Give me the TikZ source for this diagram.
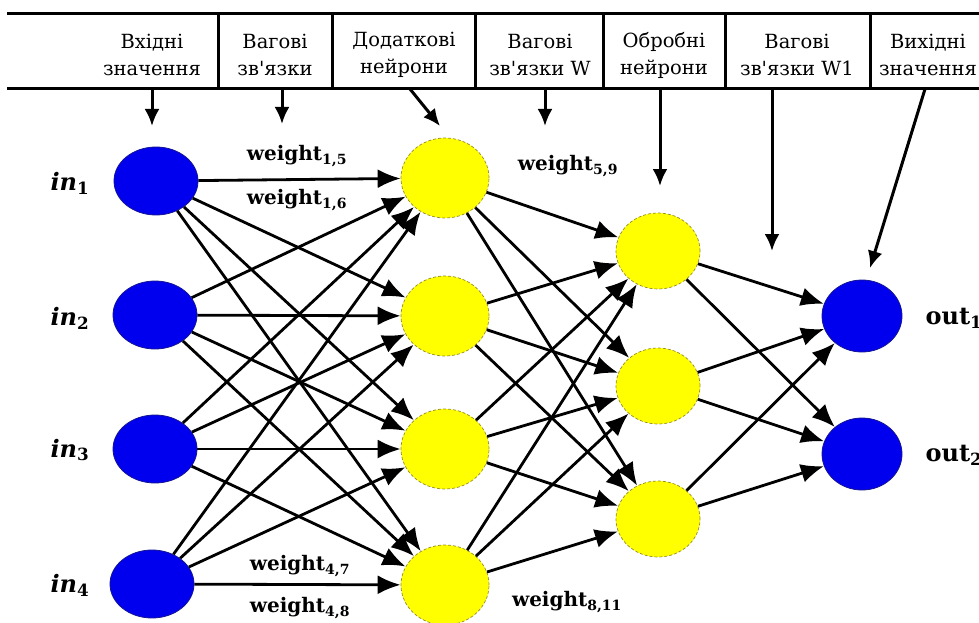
\documentclass[tikz,border=0pt]{standalone}
\usepackage{fontspec}
\setmainfont{DejaVu Serif}
\usetikzlibrary{shapes.geometric,arrows.meta}
\definecolor{nblue}{RGB}{0,0,238}
\definecolor{nblueedge}{RGB}{20,20,150}
\definecolor{nyellow}{RGB}{255,255,0}
\definecolor{nyellowedge}{RGB}{150,140,40}
\newcommand{\apos}{\textquotesingle}
\begin{document}
\begin{tikzpicture}[x=1pt,y=-1pt,
  link/.style={line width=2.8pt, -{Latex[length=23pt,width=19pt]}},
  ptr/.style={line width=3pt, -{Latex[length=17pt,width=15pt]}},
  rule/.style={line width=3pt},
  hdr/.style={font=\fontsize{19.5}{27}\selectfont, align=center},
  wlab/.style={font=\bfseries\fontsize{20}{22}\selectfont},
  nlab/.style={font=\bfseries\fontsize{24}{26}\selectfont},
  inode/.style={ellipse, fill=nblue, draw=nblueedge, line width=0.8pt,
    minimum width=84pt, minimum height=68pt, inner sep=0pt},
  hnode/.style={ellipse, fill=nyellow, draw=nyellowedge, densely dashed,
    line width=0.7pt, minimum width=88pt, minimum height=80pt, inner sep=0pt},
  gnode/.style={hnode, minimum width=84pt, minimum height=76pt},
  onode/.style={inode, minimum width=80pt, minimum height=72pt},
]
\useasboundingbox (0,0) rectangle (979,623);
\fill[white] (0,0) rectangle (979,623);

% header table
\coordinate (tl) at (7,14);   \coordinate (tr) at (985,14);
\coordinate (bl) at (7,89);   \coordinate (br) at (985,89);
\draw[rule] (tl) -- (tr);
\draw[rule] (bl) -- (br);
\foreach \x in {218,332,475,603,725,870}
  \draw[rule] (\x,14) -- (\x,89);

\node[hdr] (c1) at (152,55) {Вхідні\\значення};
\node[hdr] (c2) at (275,55) {Вагові\\зв\apos язки};
\node[hdr] (c3) at (404,55) {Додаткові\\нейрони};
\node[hdr] (c4) at (540,55) {Вагові\\зв\apos язки W};
\node[hdr] (c5) at (664,55) {Обробні\\нейрони};
\node[hdr] (c6) at (797,55) {Вагові\\зв\apos язки W1};
\node[hdr] (c7) at (928,55) {Вихідні\\значення};

% input layer
\node[inode] (i1) at (156,181) {};
\node[inode] (i2) at (155,315) {};
\node[inode] (i3) at (155,449) {};
\node[inode] (i4) at (152,584) {};

% first hidden layer
\node[hnode] (h1) at (445,178) {};
\node[hnode] (h2) at (445,316) {};
\node[hnode] (h3) at (445,449) {};
\node[hnode] (h4) at (445,585) {};

% second hidden layer
\node[gnode] (g1) at (658,251) {};
\node[gnode] (g2) at (658,386) {};
\node[gnode] (g3) at (658,519) {};

% output layer
\node[onode] (o1) at (862,316) {};
\node[onode] (o2) at (862,454) {};

% connections
\foreach \s in {i1,i2,i3,i4}
  \foreach \t in {h1,h2,h3,h4}
    \draw[link] (\s) -- (\t);
\foreach \s in {h1,h2,h3,h4}
  \foreach \t in {g1,g2,g3}
    \draw[link] (\s) -- (\t);
\foreach \s in {g1,g2,g3}
  \foreach \t in {o1,o2}
    \draw[link] (\s) -- (\t);

% pointers from the header
\coordinate (p1s) at (152,89);  \coordinate (p1e) at (152,126);
\coordinate (p2s) at (282,89);  \coordinate (p2e) at (282,124);
\coordinate (p3s) at (410,89);  \coordinate (p3e) at (440,126);
\coordinate (p4s) at (545,89);  \coordinate (p4e) at (545,126);
\coordinate (p5s) at (660,89);  \coordinate (p5e) at (660,186);
\coordinate (p6s) at (772,89);  \coordinate (p6e) at (772,251);
\coordinate (p7s) at (925,89);  \coordinate (p7e) at (870,268);
\foreach \k in {1,...,7}
  \draw[ptr] (p\k s) -- (p\k e);

% node labels
\node[nlab] (l1) at (70,183) {\textit{in}\textsubscript{1}};
\node[nlab] (l2) at (70,318) {\textit{in}\textsubscript{2}};
\node[nlab] (l3) at (70,450) {\textit{in}\textsubscript{3}};
\node[nlab] (l4) at (70,585) {\textit{in}\textsubscript{4}};
\node[nlab, anchor=west] (r1) at (922,318) {out\textsubscript{1}};
\node[nlab, anchor=west] (r2) at (922,455) {out\textsubscript{2}};

% weight labels
\node[wlab] (w15) at (297,156) {weight\textsubscript{1,5}};
\node[wlab] (w16) at (297,200) {weight\textsubscript{1,6}};
\node[wlab] (w59) at (568,166) {weight\textsubscript{5,9}};
\node[wlab] (w47) at (300,566) {weight\textsubscript{4,7}};
\node[wlab] (w48) at (300,608) {weight\textsubscript{4,8}};
\node[wlab] (w811) at (567,602) {weight\textsubscript{8,11}};
\end{tikzpicture}
\end{document}
